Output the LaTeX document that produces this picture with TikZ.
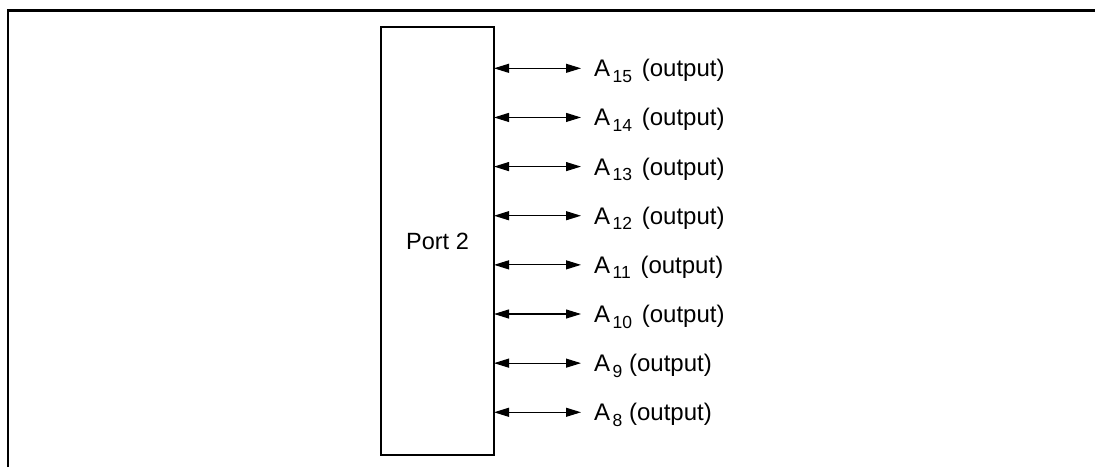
\documentclass[tikz,border=0pt]{standalone}
\usepackage{fontspec}
\setmainfont{Liberation Sans}
\usetikzlibrary{arrows.meta}
\newcommand\addr[1]{A\kern2.5pt\raisebox{-5.5pt}{\fontsize{17.5}{18}\selectfont #1}}

\begin{document}
\begin{tikzpicture}[
    x=1pt, y=-1pt,
    pin/.style={
      {Triangle[length=15pt,width=9pt]}-{Triangle[length=15pt,width=9pt]},
      line width=1.1pt
    },
    sig/.style={
      anchor=base west,
      inner sep=0pt,
      font=\fontsize{24}{28}\selectfont
    }
  ]
  \useasboundingbox (0,0) rectangle (1095,467);
  % frame, only top and left edges show
  \draw[line width=2.5pt] (8,467) -- (8,10.5) -- (1095,10.5);

  \node[
    draw,
    line width=1.7pt,
    minimum width=113pt,
    minimum height=428pt,
    inner sep=0pt,
    font=\fontsize{23.5}{28}\selectfont
  ] (port2) at (437.5,241) {Port 2};

  \foreach \n [count=\i from 0] in {15,14,...,8} {
    \pgfmathsetmacro{\ry}{68.3+49.14*\i}
    \coordinate (p\n) at (494,\ry);
    \node[sig] (l\n) at (594,\ry+8.5)
      {\addr{\n}\ifnum\n>9\kern3pt\fi~(output)};
    \draw[pin, shorten >=13pt] (p\n) -- (p\n -| l\n.west);
  }
\end{tikzpicture}
\end{document}
